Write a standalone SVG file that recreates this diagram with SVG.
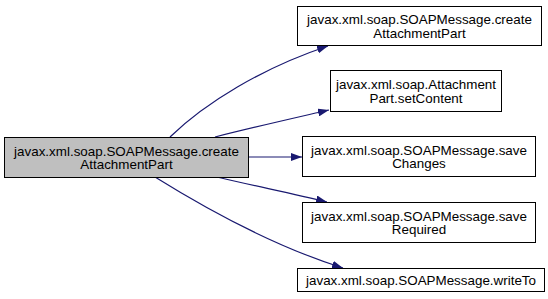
<svg xmlns="http://www.w3.org/2000/svg" width="548" height="299" viewBox="0 0 548 299">
  <style>
    .node rect { fill: #ffffff; stroke: #000000; stroke-width: 1; }
    .node.current rect { fill: #bfbfbf; }
    .node text { font-family: "Liberation Sans", Arial, sans-serif; font-size: 13.4px; fill: #000000; text-anchor: middle; }
    .edge { fill: none; stroke: #191970; stroke-width: 1.2; marker-end: url(#arrow); }
  </style>
  <defs>
    <marker id="arrow" viewBox="0 0 11 8" refX="11" refY="4" markerWidth="11" markerHeight="8" markerUnits="userSpaceOnUse" orient="auto">
      <path d="M0,0 L11,4 L0,8 z" fill="#191970"/>
    </marker>
  </defs>
  <rect width="548" height="299" fill="#ffffff"/>

  <g id="edges">
    <path class="edge" d="M170,137 C205,103 262,68 328,46"/>
    <path class="edge" d="M215,137 C250,128 290,119 329,110"/>
    <path class="edge" d="M248.5,157 L302,157"/>
    <path class="edge" d="M217,177 C250,185 290,193 327,202"/>
    <path class="edge" d="M155,177 C200,205 270,245 343,268"/>
  </g>

  <g id="node-createAttachmentPart-caller" class="node current">
    <rect x="4.5" y="137.5" width="244" height="40"/>
    <text x="126.5" y="155.5">javax.xml.soap.SOAPMessage.create</text>
    <text x="126.5" y="169">AttachmentPart</text>
  </g>

  <g id="node-createAttachmentPart" class="node">
    <rect x="297.5" y="6.5" width="244" height="39"/>
    <text x="419.5" y="24">javax.xml.soap.SOAPMessage.create</text>
    <text x="419.5" y="37.5">AttachmentPart</text>
  </g>

  <g id="node-setContent" class="node">
    <rect x="330.5" y="70.5" width="171" height="41"/>
    <text x="416" y="89">javax.xml.soap.Attachment</text>
    <text x="416" y="102.5">Part.setContent</text>
  </g>

  <g id="node-saveChanges" class="node">
    <rect x="302.5" y="136.5" width="233" height="40"/>
    <text x="419" y="154.5">javax.xml.soap.SOAPMessage.save</text>
    <text x="419" y="168">Changes</text>
  </g>

  <g id="node-saveRequired" class="node">
    <rect x="302.5" y="202.5" width="233" height="40"/>
    <text x="419" y="220.5">javax.xml.soap.SOAPMessage.save</text>
    <text x="419" y="234">Required</text>
  </g>

  <g id="node-writeTo" class="node">
    <rect x="297.5" y="268.5" width="247" height="23"/>
    <text x="421" y="284.5">javax.xml.soap.SOAPMessage.writeTo</text>
  </g>
</svg>
